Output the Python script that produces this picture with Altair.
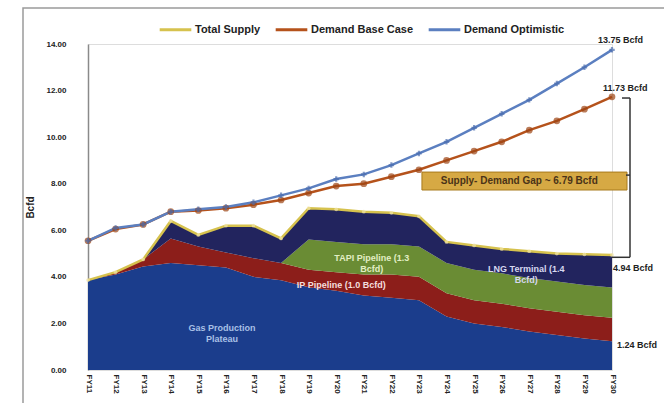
import altair as alt
import pandas as pd

years = ["FY11", "FY12", "FY13", "FY14", "FY15", "FY16", "FY17", "FY18", "FY19", "FY20",
         "FY21", "FY22", "FY23", "FY24", "FY25", "FY26", "FY27", "FY28", "FY29", "FY30"]

gas_production = [3.86, 4.10, 4.45, 4.60, 4.50, 4.40, 4.00, 3.85, 3.55, 3.40,
                  3.20, 3.10, 3.00, 2.30, 2.00, 1.85, 1.65, 1.50, 1.35, 1.24]
ip_pipeline = [0.00, 0.10, 0.30, 1.05, 0.80, 0.65, 0.80, 0.75, 0.75, 0.80,
               0.90, 1.00, 1.00, 1.00, 1.00, 1.00, 1.00, 1.00, 1.00, 1.00]
tapi_pipeline = [0.00, 0.00, 0.00, 0.00, 0.00, 0.00, 0.00, 0.00, 1.30, 1.30,
                 1.30, 1.30, 1.30, 1.30, 1.30, 1.30, 1.30, 1.30, 1.30, 1.30]
lng_terminal = [0.00, 0.00, 0.00, 0.75, 0.50, 1.15, 1.40, 1.05, 1.35, 1.40,
                1.40, 1.35, 1.30, 0.90, 1.05, 1.05, 1.15, 1.20, 1.32, 1.40]

total_supply = [3.86, 4.20, 4.75, 6.40, 5.80, 6.20, 6.20, 5.65, 6.95, 6.90,
                6.80, 6.75, 6.60, 5.50, 5.35, 5.20, 5.10, 5.00, 4.97, 4.94]
demand_base = [5.55, 6.05, 6.25, 6.80, 6.85, 6.95, 7.10, 7.30, 7.60, 7.90,
               8.00, 8.30, 8.60, 9.00, 9.40, 9.80, 10.30, 10.70, 11.20, 11.73]
demand_opt = [5.55, 6.10, 6.25, 6.80, 6.90, 7.00, 7.20, 7.50, 7.80, 8.20,
              8.40, 8.80, 9.30, 9.80, 10.40, 11.00, 11.60, 12.30, 13.00, 13.75]

area_names = ["Gas Production Plateau", "IP Pipeline", "TAPI Pipeline", "LNG Terminal"]
area_colors = ["#1b3d8c", "#8c1e1a", "#6a8c34", "#22245e"]
line_names = ["Total Supply", "Demand Base Case", "Demand Optimistic"]
line_colors = ["#d6c24e", "#b5521b", "#5b7fc0"]

y_ticks = [0, 2, 4, 6, 8, 10, 12, 14]

FONT = "Liberation Sans"

rows = []
for k, (name, vals) in enumerate(zip(area_names, [gas_production, ip_pipeline, tapi_pipeline, lng_terminal])):
    for yr, v in zip(years, vals):
        rows.append({"year": yr, "series": name, "value": v, "ord": k})
area_df = pd.DataFrame(rows)

rows = []
for name, vals in zip(line_names, [total_supply, demand_base, demand_opt]):
    for yr, v in zip(years, vals):
        rows.append({"year": yr, "series": name, "value": v})
line_df = pd.DataFrame(rows)

x_scale = alt.Scale(type="point", padding=0, domain=years)
x_enc = alt.X("year:O", scale=x_scale,
              axis=alt.Axis(title=None, labelAngle=90, labelFont=FONT, labelFontSize=8,
                            labelFontWeight="bold", labelColor="#222", ticks=False,
                            domain=False, labelPadding=4, labelAlign="left", labelBaseline="middle"))
y_scale = alt.Scale(domain=[0, 14], nice=False)

areas = alt.Chart(area_df).mark_area(interpolate="linear", opacity=1).encode(
    x=x_enc,
    y=alt.Y("value:Q", stack="zero", scale=y_scale,
            axis=alt.Axis(values=y_ticks, format=".2f", title="Bcfd", grid=False, ticks=False,
                          domainColor="#8a8a8a", domainWidth=1.5, labelPadding=22,
                          labelFont=FONT, labelFontSize=8, labelFontWeight="bold", labelColor="#222",
                          titleFont=FONT, titleFontSize=10, titleFontWeight="bold", titleColor="#222",
                          titleX=-53, titleY=163, titleAngle=-90)),
    fill=alt.Fill("series:N", scale=alt.Scale(domain=area_names, range=area_colors), legend=None),
    order=alt.Order("ord:Q"),
)

lines = alt.Chart(line_df).mark_line(strokeWidth=2.5).encode(
    x=x_enc,
    y=alt.Y("value:Q", scale=y_scale),
    color=alt.Color("series:N", scale=alt.Scale(domain=line_names, range=line_colors),
                    legend=alt.Legend(title=None, orient="none", legendX=70, legendY=-32,
                                      direction="horizontal", symbolType="stroke",
                                      symbolStrokeWidth=3, symbolSize=1000, columnPadding=8,
                                      labelFont=FONT, labelFontSize=11, labelFontWeight="bold",
                                      labelColor="#222", labelOffset=2)),
)

supply_pts = alt.Chart(line_df).transform_filter(alt.datum.series == "Total Supply").mark_point(
    filled=True, size=14, color="#f2e6a8", shape="circle").encode(x=x_enc, y=alt.Y("value:Q", scale=y_scale))
base_pts = alt.Chart(line_df).transform_filter(alt.datum.series == "Demand Base Case").mark_point(
    filled=True, size=45, color="#9c4514", shape="circle").encode(x=x_enc, y=alt.Y("value:Q", scale=y_scale))
opt_pts = alt.Chart(line_df).transform_filter(alt.datum.series == "Demand Optimistic").mark_point(
    filled=True, size=30, color="#4a6cae", shape="cross").encode(x=x_enc, y=alt.Y("value:Q", scale=y_scale))

# area labels
area_label_df = pd.DataFrame({
    "year": ["FY16", "FY20", "FY21", "FY27"],
    "value": [1.8, 3.65, 4.8, 4.35],
    "text": ["Gas Production\nPlateau", "IP Pipeline (1.0 Bcfd)", "TAPI Pipeline (1.3\nBcfd)", "LNG Terminal (1.4\nBcfd)"],
    "col": ["#a9c0e6", "#f4dede", "#e2eec4", "#d6d8f0"],
    "dx": [-4, 5, 8, -3],
})
area_labels = alt.layer(*[
    alt.Chart(area_label_df.iloc[[i]]).mark_text(font=FONT, fontSize=9, fontWeight="bold",
                                                lineBreak="\n", align="center", baseline="middle",
                                                dx=int(area_label_df.dx[i]), color=area_label_df.col[i]).encode(
        x=x_enc, y=alt.Y("value:Q", scale=y_scale), text="text:N")
    for i in range(len(area_label_df))
])

# end value labels
end_df = pd.DataFrame({
    "year": ["FY30", "FY30", "FY30", "FY30"],
    "value": [demand_opt[-1], demand_base[-1], total_supply[-1], gas_production[-1]],
    "text": ["13.75 Bcfd", "11.73 Bcfd", "4.94 Bcfd", "1.24 Bcfd"],
})
offs = [(-14, -10), (-9, -9), (1, 13), (5, 4)]
end_labels = alt.layer(*[
    alt.Chart(end_df.iloc[[i]]).mark_text(font=FONT, fontSize=9, fontWeight="bold", align="left",
                                         baseline="middle", dx=offs[i][0], dy=offs[i][1], color="#222").encode(
        x=x_enc, y=alt.Y("value:Q", scale=y_scale), text="text:N")
    for i in range(4)
])

# gap box
gap_low = total_supply[-1]
gap_high = demand_base[-1]
box_df = pd.DataFrame({"year": ["FY23"], "year2": ["FY30"], "y1": [8.50], "y2": [7.73]})
gap_box = alt.Chart(box_df).mark_rect(fill="#d6a944", stroke="#a87a1c", strokeWidth=1,
                                       xOffset=3, x2Offset=15).encode(
    x=x_enc, x2="year2", y=alt.Y("y1:Q", scale=y_scale), y2="y2:Q")
gap_text_df = pd.DataFrame({"year": ["FY27"], "value": [8.12], "text": ["Supply- Demand Gap ~ 6.79 Bcfd"]})
gap_text = alt.Chart(gap_text_df).mark_text(font=FONT, fontSize=10, fontWeight="bold", color="#4a3318",
                                            align="center", baseline="middle", dx=-10).encode(
    x=x_enc, y=alt.Y("value:Q", scale=y_scale), text="text:N")

# bracket
br_v_df = pd.DataFrame({"year": ["FY30"], "y1": [gap_high - 0.05], "y2": [gap_low - 0.1]})
br_v = alt.Chart(br_v_df).mark_rule(color="#333", strokeWidth=1.5, xOffset=18).encode(
    x=x_enc, y=alt.Y("y1:Q", scale=y_scale), y2="y2:Q")
br_h_df = pd.DataFrame({"year": ["FY30", "FY30", "FY30"], "value": [gap_high - 0.05, gap_low - 0.1, 8.37],
                        "x1o": [10, 0, 14]})
br_h = alt.layer(*[
    alt.Chart(br_h_df.iloc[[i]]).mark_rule(color="#333", strokeWidth=1.5,
                                          xOffset=int(br_h_df.x1o[i]), x2Offset=18).encode(
        x=x_enc, x2="year:O", y=alt.Y("value:Q", scale=y_scale))
    for i in range(3)
])

# outer frame
frame = alt.Chart(pd.DataFrame({"k": [0]})).mark_rect(fill=None, stroke="#9a9a9a", strokeWidth=1.5).encode(
    x=alt.value(-65), x2=alt.value(700), y=alt.value(-36), y2=alt.value(500))

chart = alt.layer(
    frame, areas, lines, supply_pts, base_pts, opt_pts, area_labels, end_labels,
    gap_box, gap_text, br_v, br_h
).properties(
    width=524, height=326,
    autosize=alt.AutoSizeParams(type="none"),
    padding={"left": 88, "top": 44, "right": 52, "bottom": 33},
).configure_view(stroke=None).configure(background="#ffffff")

chart.save("out.html", embed_options={"renderer": "svg", "actions": False})
